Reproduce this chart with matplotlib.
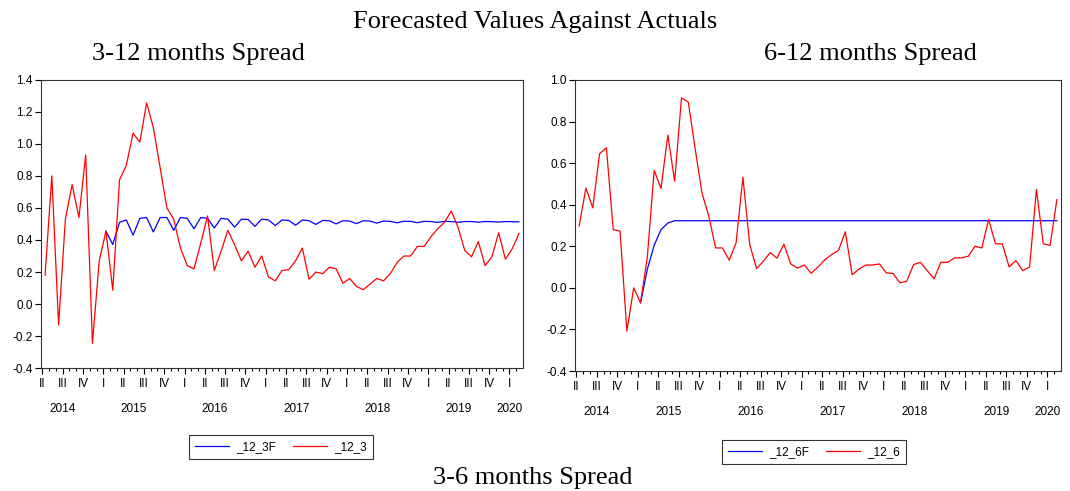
import numpy as np
import matplotlib
matplotlib.use('Agg')
import matplotlib.pyplot as plt
from matplotlib.ticker import FixedLocator, MultipleLocator
import matplotlib.transforms as mtrans

# monthly observations 2014M04 .. 2020M02
quarters = ['II', 'III', 'IV', 'I'] * 6
years = ['2014', '2015', '2016', '2017', '2018', '2019', '2020']

# 3-12 months spread: actual and forecast (forecast starts at obs 9)
act_12_3 = [0.18, 0.80, -0.13, 0.53, 0.745, 0.54, 0.93, -0.245, 0.27, 0.455,
            0.087, 0.775, 0.865, 1.066, 1.01, 1.255, 1.10, 0.85, 0.60, 0.53,
            0.35, 0.24, 0.22, 0.38, 0.55, 0.21, 0.33, 0.46, 0.37, 0.27,
            0.33, 0.23, 0.30, 0.17, 0.145, 0.21, 0.215, 0.27, 0.35, 0.155,
            0.20, 0.19, 0.23, 0.22, 0.13, 0.16, 0.11, 0.09, 0.125, 0.16,
            0.145, 0.19, 0.26, 0.30, 0.30, 0.36, 0.36, 0.42, 0.47, 0.51,
            0.58, 0.48, 0.335, 0.295, 0.39, 0.24, 0.295, 0.445, 0.28, 0.345,
            0.44]
fc_12_3 = [0.455, 0.372, 0.51, 0.525, 0.43, 0.535, 0.54, 0.45, 0.54, 0.54,
           0.46, 0.54, 0.535, 0.47, 0.54, 0.535, 0.475, 0.535, 0.53, 0.48,
           0.53, 0.528, 0.485, 0.53, 0.525, 0.49, 0.525, 0.522, 0.492, 0.525,
           0.52, 0.497, 0.522, 0.52, 0.50, 0.52, 0.518, 0.502, 0.52, 0.518,
           0.505, 0.518, 0.516, 0.507, 0.517, 0.516, 0.508, 0.516, 0.515, 0.51,
           0.516, 0.515, 0.51, 0.515, 0.515, 0.511, 0.515, 0.514, 0.512, 0.515,
           0.514, 0.513]

# 6-12 months spread
act_12_6 = [0.297, 0.48, 0.385, 0.645, 0.674, 0.28, 0.273, -0.208, 0.0, -0.072,
            0.15, 0.565, 0.478, 0.735, 0.513, 0.914, 0.893, 0.67, 0.457, 0.345,
            0.192, 0.192, 0.133, 0.217, 0.532, 0.208, 0.093, 0.128, 0.17, 0.143,
            0.21, 0.115, 0.095, 0.11, 0.07, 0.10, 0.135, 0.16, 0.18, 0.27,
            0.063, 0.09, 0.11, 0.11, 0.115, 0.072, 0.069, 0.024, 0.032, 0.112,
            0.123, 0.083, 0.043, 0.123, 0.123, 0.144, 0.144, 0.152, 0.20, 0.192,
            0.329, 0.212, 0.212, 0.101, 0.131, 0.083, 0.101, 0.473, 0.212, 0.204,
            0.425]
fc_12_6 = [-0.072, 0.09, 0.205, 0.28, 0.312, 0.323, 0.323, 0.323, 0.323, 0.323,
           0.323, 0.323, 0.323, 0.323, 0.323, 0.323, 0.323, 0.323, 0.323, 0.323,
           0.323, 0.323, 0.323, 0.323, 0.323, 0.323, 0.323, 0.323, 0.323, 0.323,
           0.323, 0.323, 0.323, 0.323, 0.323, 0.323, 0.323, 0.323, 0.323, 0.323,
           0.323, 0.323, 0.323, 0.323, 0.323, 0.323, 0.323, 0.323, 0.323, 0.323,
           0.323, 0.323, 0.323, 0.323, 0.323, 0.323, 0.323, 0.323, 0.323, 0.323,
           0.323, 0.323]

n = len(act_12_3)
t = np.arange(n)
fc_start = 9

plt.rcParams['font.family'] = ['Liberation Sans', 'DejaVu Sans']
serif = ['Liberation Serif', 'DejaVu Serif']

fig = plt.figure(figsize=(10.7, 4.91), dpi=100)
ax1 = fig.add_axes([41/1070, 1-368.3/491, 482/1070, 288.7/491])
ax2 = fig.add_axes([575/1070, 1-371/491, 486/1070, 291/491])


def style(ax, fc, act, lab_f, lab_a, ylo, yhi, leg_xy):
    tf = np.arange(fc_start, fc_start + len(fc))
    ax.plot(tf, fc, color='#0000ff', lw=0.9, label=lab_f)
    ax.plot(t, act, color='#ff0000', lw=0.9, label=lab_a)
    ax.set_xlim(-0.6, n - 1 + 0.6)
    ax.set_ylim(ylo, yhi)
    ax.yaxis.set_major_locator(MultipleLocator(0.2))
    ax.yaxis.set_major_formatter(lambda v, p: '%.1f' % v)
    qpos = np.arange(0, n, 3) - 0.4
    ax.xaxis.set_major_locator(FixedLocator(qpos))
    ax.set_xticklabels(quarters[:len(qpos)])
    ax.xaxis.set_minor_locator(FixedLocator(np.arange(n) - 0.4))
    ax.tick_params(axis='x', which='major', length=4, width=0.8, pad=3, labelsize=8.5)
    ax.tick_params(axis='x', which='minor', length=2.5, width=0.8)
    ax.tick_params(axis='y', length=4, width=0.8, pad=2, labelsize=8.5)
    for s in ax.spines.values():
        s.set_linewidth(0.8)
        s.set_color('#333333')
    # year labels under the quarter labels
    trans = mtrans.blended_transform_factory(ax.transData, ax.transAxes)
    yr_of = [2014 + (i + 3) // 12 for i in range(0, n, 3)]
    for y in years:
        ps = [qpos[k] for k in range(len(qpos)) if yr_of[k] == int(y)]
        ax.text(np.mean(ps), -0.141, y, transform=trans, ha='center',
                va='center', fontsize=8.5)
    leg = fig.legend(handles=ax.get_lines(), loc='center',
                     bbox_to_anchor=leg_xy, ncol=2, fontsize=8.5, frameon=True,
                     fancybox=False, edgecolor='black', handlelength=2.9,
                     columnspacing=1.4, borderpad=0.5, handletextpad=0.6)
    leg.get_frame().set_linewidth(0.8)


style(ax1, fc_12_3, act_12_3, '_12_3F', '_12_3', -0.4, 1.4, (281/1070, 1-447/491))
style(ax2, fc_12_6, act_12_6, '_12_6F', '_12_6', -0.4, 1.0, (814/1070, 1-452/491))

fig.text(535/1070, 1-22/491, 'Forecasted Values Against Actuals', ha='center',
         va='center', fontsize=19, family=serif)
fig.text(198/1070, 1-54/491, '3-12 months Spread', ha='center', va='center',
         fontsize=19, family=serif)
fig.text(870/1070, 1-54/491, '6-12 months Spread', ha='center', va='center',
         fontsize=19, family=serif)
fig.text(533/1070, 1-478/491, '3-6 months Spread', ha='center', va='center',
         fontsize=19, family=serif)

fig.savefig('out.png', dpi=100)
